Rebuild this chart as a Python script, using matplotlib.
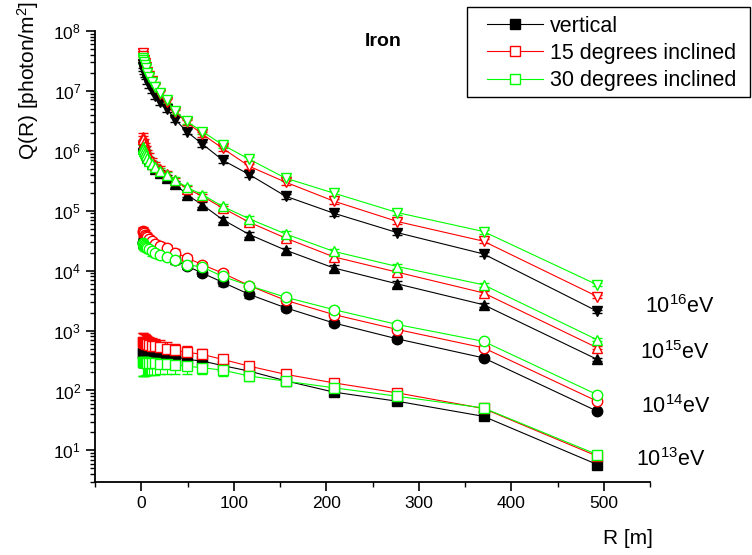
import numpy as np
import matplotlib.pyplot as plt
from matplotlib.lines import Line2D
from matplotlib.patches import Rectangle
from matplotlib.ticker import FixedLocator, NullFormatter

plt.rcParams['font.family'] = ['Liberation Sans', 'DejaVu Sans']
plt.rcParams['mathtext.fontset'] = 'custom'
plt.rcParams['mathtext.rm'] = 'Liberation Sans'
plt.rcParams['mathtext.it'] = 'Liberation Sans:italic'
plt.rcParams['mathtext.bf'] = 'Liberation Sans:bold'

# core distance R [m]
r = [1.5, 2, 2.7, 3.6, 4.8, 6.4, 8.5, 11.3, 15, 20, 27.5, 37, 49, 66, 88,
     117, 156, 208, 277, 370, 493]

# photon density Q(R) for iron primaries, 1e16 eV
q16_vert = [2.8e7, 2.5e7, 2.2e7, 2.0e7, 1.8e7, 1.5e7, 1.25e7, 1.05e7, 8.3e6, 6.6e6,
            5.0e6, 3.3e6, 2.1e6, 1.3e6, 7.0e5, 4.0e5, 1.75e5, 9.1e4, 4.3e4, 1.9e4, 2.1e3]
q16_15 = [4.3e7, 3.8e7, 3.3e7, 2.9e7, 2.5e7, 2.1e7, 1.75e7, 1.45e7, 1.15e7, 9.0e6,
          6.6e6, 4.4e6, 3.0e6, 1.9e6, 1.1e6, 5.5e5, 3.0e5, 1.45e5, 6.6e4, 3.1e4, 3.7e3]
q16_30 = [3.6e7, 3.3e7, 3.0e7, 2.7e7, 2.4e7, 2.0e7, 1.7e7, 1.4e7, 1.15e7, 9.2e6,
          7.0e6, 4.6e6, 3.1e6, 2.1e6, 1.26e6, 7.2e5, 3.5e5, 1.97e5, 9.3e4, 4.5e4, 5.8e3]
err16 = [0.15, 0.15, 0.14, 0.14, 0.13, 0.13, 0.12, 0.12, 0.12, 0.11, 0.11, 0.1,
         0.1, 0.1, 0.1, 0.1, 0.1, 0.1, 0.1, 0.08, 0.06]

# 1e15 eV
q15_vert = [1.3e6, 1.2e6, 1.1e6, 1.0e6, 9.0e5, 8.0e5, 7.0e5, 6.0e5, 5.0e5, 4.2e5,
            3.5e5, 2.8e5, 1.86e5, 1.26e5, 7.1e4, 4.0e4, 2.2e4, 1.11e4, 6.0e3, 2.7e3, 330]
q15_15 = [1.7e6, 1.55e6, 1.35e6, 1.2e6, 1.05e6, 9.2e5, 8.0e5, 6.8e5, 5.8e5, 5.0e5,
          4.1e5, 3.2e5, 2.35e5, 1.75e5, 1.11e5, 6.4e4, 3.5e4, 1.7e4, 9.4e3, 4.25e3, 515]
q15_30 = [1.15e6, 1.08e6, 1.0e6, 9.3e5, 8.5e5, 7.6e5, 6.8e5, 6.0e5, 5.3e5, 4.6e5,
          4.0e5, 3.3e5, 2.45e5, 1.86e5, 1.18e5, 7.3e4, 4.1e4, 2.1e4, 1.17e4, 5.8e3, 700]
err15 = [0.15, 0.15, 0.15, 0.14, 0.14, 0.13, 0.13, 0.12, 0.12, 0.12, 0.11, 0.11,
         0.1, 0.1, 0.1, 0.1, 0.1, 0.1, 0.1, 0.08, 0.06]

# 1e14 eV
q14_vert = [3.0e4, 2.9e4, 2.8e4, 2.7e4, 2.6e4, 2.5e4, 2.4e4, 2.3e4, 2.2e4, 2.0e4,
            1.8e4, 1.5e4, 1.2e4, 9.1e3, 6.4e3, 4.0e3, 2.4e3, 1.34e3, 725, 350, 45]
q14_15 = [4.6e4, 4.4e4, 4.2e4, 4.0e4, 3.8e4, 3.6e4, 3.4e4, 3.1e4, 2.8e4, 2.6e4,
          2.4e4, 2.0e4, 1.64e4, 1.26e4, 9.1e3, 5.6e3, 3.2e3, 1.85e3, 1.04e3, 515, 66]
q14_30 = [2.9e4, 2.8e4, 2.7e4, 2.6e4, 2.5e4, 2.4e4, 2.3e4, 2.1e4, 2.0e4, 1.85e4,
          1.7e4, 1.53e4, 1.26e4, 1.15e4, 8.0e3, 5.6e3, 3.6e3, 2.24e3, 1.26e3, 660, 85]
err14 = [0.18, 0.18, 0.17, 0.17, 0.16, 0.16, 0.15, 0.15, 0.14, 0.14, 0.13, 0.13,
         0.12, 0.12, 0.12, 0.11, 0.11, 0.1, 0.1, 0.08, 0.06]

# 1e13 eV
q13_vert = [430, 425, 420, 415, 410, 405, 400, 395, 390, 385, 378, 370, 330, 310,
            260, 210, 145, 94, 66, 37, 5.8]
q13_15 = [650, 640, 630, 620, 605, 590, 575, 560, 545, 525, 500, 470, 435, 400,
          330, 254, 186, 134, 91, 50, 8.0]
q13_30 = [300, 298, 296, 294, 292, 290, 288, 286, 284, 280, 275, 270, 254, 240,
          218, 174, 143, 111, 80, 51, 8.5]
err13 = [0.42, 0.42, 0.41, 0.4, 0.39, 0.38, 0.37, 0.36, 0.35, 0.33, 0.31, 0.29,
         0.26, 0.23, 0.2, 0.16, 0.12, 0.1, 0.08, 0.06, 0.05]

energy_labels = ['$10^{16}$eV', '$10^{15}$eV', '$10^{14}$eV', '$10^{13}$eV']
angle_labels = ['vertical', '15 degrees inclined', '30 degrees inclined']
colors = ['black', 'red', '#00ff00']

x_major = [0, 100, 200, 300, 400, 500]
x_minor = [-50, 50, 150, 250, 350, 450, 550]
y_major = [1e1, 1e2, 1e3, 1e4, 1e5, 1e6, 1e7, 1e8]

series = [
    (q16_vert, q16_15, q16_30, err16, 'v'),
    (q15_vert, q15_15, q15_30, err15, '^'),
    (q14_vert, q14_15, q14_30, err14, 'o'),
    (q13_vert, q13_15, q13_30, err13, 's'),
]

fig = plt.figure(figsize=(7.52, 5.55), dpi=100)
ax = fig.add_axes([95 / 752, 1 - 481.7 / 555, 555 / 752, 450.7 / 555])

for q_v, q_15, q_30, err, mk in series:
    for q, col in zip((q_v, q_15, q_30), colors):
        q = np.array(q)
        e = q * np.array(err)
        face = col if col == 'black' else 'white'
        ax.errorbar(r, q, yerr=e, color=col, lw=0.8, marker=mk, ms=7.5,
                    mfc=face, mec=col, mew=1.0, capsize=3.5, elinewidth=0.8)

ax.set_yscale('log')
ax.set_xlim(-50, 550)
ax.set_ylim(3, 1e8)
ax.xaxis.set_major_locator(FixedLocator(x_major))
ax.xaxis.set_minor_locator(FixedLocator(x_minor))
ax.yaxis.set_major_locator(FixedLocator(y_major))
y_minor = [m * d for d in [1, 10, 1e2, 1e3, 1e4, 1e5, 1e6, 1e7] for m in range(2, 10)
           if m * d > 2.9 and m * d < 1e8]
ax.yaxis.set_minor_locator(FixedLocator(y_minor))
ax.yaxis.set_minor_formatter(NullFormatter())

for side in ('top', 'right'):
    ax.spines[side].set_visible(False)
for side in ('left', 'bottom'):
    ax.spines[side].set_linewidth(1.3)
ax.tick_params(which='major', direction='out', length=6.5, width=1.2, labelsize=12.5)
ax.tick_params(which='minor', direction='out', length=3.5, width=1.0)

ax.text(-0.12, 0.89, 'Q(R) [photon/m$^2$]', transform=ax.transAxes,
        rotation=90, ha='center', va='center', fontsize=15)
fig.text(628 / 752, 1 - 538 / 555, 'R [m]', ha='center', va='center', fontsize=15)
fig.text(383 / 752, 1 - 42 / 555, 'Iron', ha='center', va='center',
         fontsize=14, fontweight='bold')

label_pos = [(680, 307), (675, 353), (676, 407), (671, 460)]
for lab, (px, py) in zip(energy_labels, label_pos):
    fig.text(px / 752, 1 - py / 555, lab, ha='center', va='center', fontsize=15.5)

handles = []
for col in colors:
    face = col if col == 'black' else 'white'
    handles.append(Line2D([], [], color=col, lw=0.8, marker='s', ms=7,
                          mfc=face, mec=col))
fig.legend(handles, angle_labels, loc='upper left',
           bbox_to_anchor=(487 / 752, 1 - 16 / 555), fontsize=15.5,
           frameon=False, handlelength=2.6, handletextpad=0.33,
           labelspacing=0.28, borderpad=0, borderaxespad=0)
# legend box
fig.patches.append(Rectangle((467 / 752, 1 - 97 / 555), 283 / 752, 90 / 555,
                             transform=fig.transFigure, fill=False,
                             edgecolor='black', linewidth=1.0))

fig.savefig('out.png', dpi=100)
